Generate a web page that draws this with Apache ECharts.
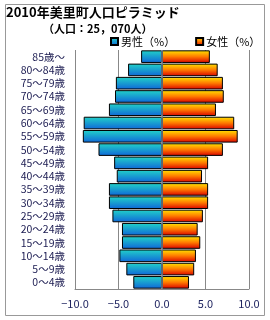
<!DOCTYPE html>
<html><head><meta charset="utf-8">
<script src="https://cdn.jsdelivr.net/npm/echarts@6/dist/echarts.min.js"></script>
<style>html,body{margin:0;padding:0;background:#fff}#c{width:270px;height:320px}</style>
</head><body><div id="c"></div>
<script>
const categories = ['0～4歳','5～9歳','10～14歳','15～19歳','20～24歳','25～29歳','30～34歳','35～39歳','40～44歳','45～49歳','50～54歳','55～59歳','60～64歳','65～69歳','70～74歳','75～79歳','80～84歳','85歳～'];
const male = [-3.3,-4.1,-4.9,-4.6,-4.6,-5.7,-6.1,-6.1,-5.2,-5.5,-7.3,-9.1,-9.0,-6.1,-5.4,-5.3,-3.9,-2.4];
const female = [3.1,3.7,3.9,4.4,4.1,4.7,5.3,5.3,4.6,5.3,7.0,8.7,8.3,6.2,7.1,7.0,6.4,5.5];
const seriesNames = ['男性（%）','女性（%）'];
const titleText = '2010年美里町人口ピラミッド';
const subText = '（人口：25，070人）';
const FONT = '"Noto Sans CJK JP", sans-serif';

const maleGrad = new echarts.graphic.LinearGradient(0,0,0,1,[{offset:0,color:'#22d3c8'},{offset:1,color:'#0f66d8'}]);
const femGrad = new echarts.graphic.LinearGradient(0,0,0,1,[{offset:0,color:'#ffe600'},{offset:0.5,color:'#ff7a00'},{offset:1,color:'#d80000'}]);

const chart = echarts.init(document.getElementById('c'));
chart.setOption({
  animation:false,
  textStyle:{fontFamily:FONT},
  title:[
    {text:titleText,left:6,top:6,padding:0,textStyle:{fontSize:13,fontWeight:'bold',color:'#000',fontFamily:FONT}},
    {text:subText,left:43,top:23,padding:0,textStyle:{fontSize:11,fontWeight:'bold',color:'#000',fontFamily:FONT}}
  ],
  legend:{
    left:110, top:36, width:160, padding:0, orient:'horizontal', itemWidth:7, itemHeight:7, itemGap:20, icon:'rect',
    textStyle:{fontSize:11,color:'#000',fontFamily:FONT,padding:[0,0,0,-2]},
    data:seriesNames
  },
  graphic:[{type:'rect',shape:{x:5.5,y:4.5,width:259,height:311},style:{fill:'none',stroke:'#999',lineWidth:1},silent:true}],
  grid:{left:75,right:21,top:50,bottom:31,containLabel:false},
  xAxis:{
    type:'value',min:-10,max:10,interval:5,
    axisLine:{show:true,onZero:false,lineStyle:{color:'#888'}},
    axisTick:{show:false},
    splitLine:{show:true,lineStyle:{color:'#888',width:1}},
    axisLabel:{fontSize:11,color:'#1f2460',margin:9,fontFamily:FONT,formatter:v=>(v<0?'−':'')+Math.abs(v).toFixed(1)}
  },
  yAxis:{
    type:'category',data:categories,
    axisLine:{show:false,onZero:false},
    axisTick:{show:false},
    axisLabel:{interval:0,fontSize:10.5,color:'#1a1a50',margin:10,fontFamily:FONT}
  },
  series:[
    {name:seriesNames[0],type:'bar',stack:'p',data:male,barCategoryGap:'5%',
     itemStyle:{color:maleGrad,borderColor:'#000',borderWidth:1}},
    {name:seriesNames[1],type:'bar',stack:'p',data:female,barCategoryGap:'5%',
     itemStyle:{color:femGrad,borderColor:'#000',borderWidth:1},
     markLine:{silent:true,symbol:'none',z:10,label:{show:false},lineStyle:{color:'#7a8a9a',type:'solid',width:1.5},data:[{xAxis:0}]}}
  ]
});
</script></body></html>
